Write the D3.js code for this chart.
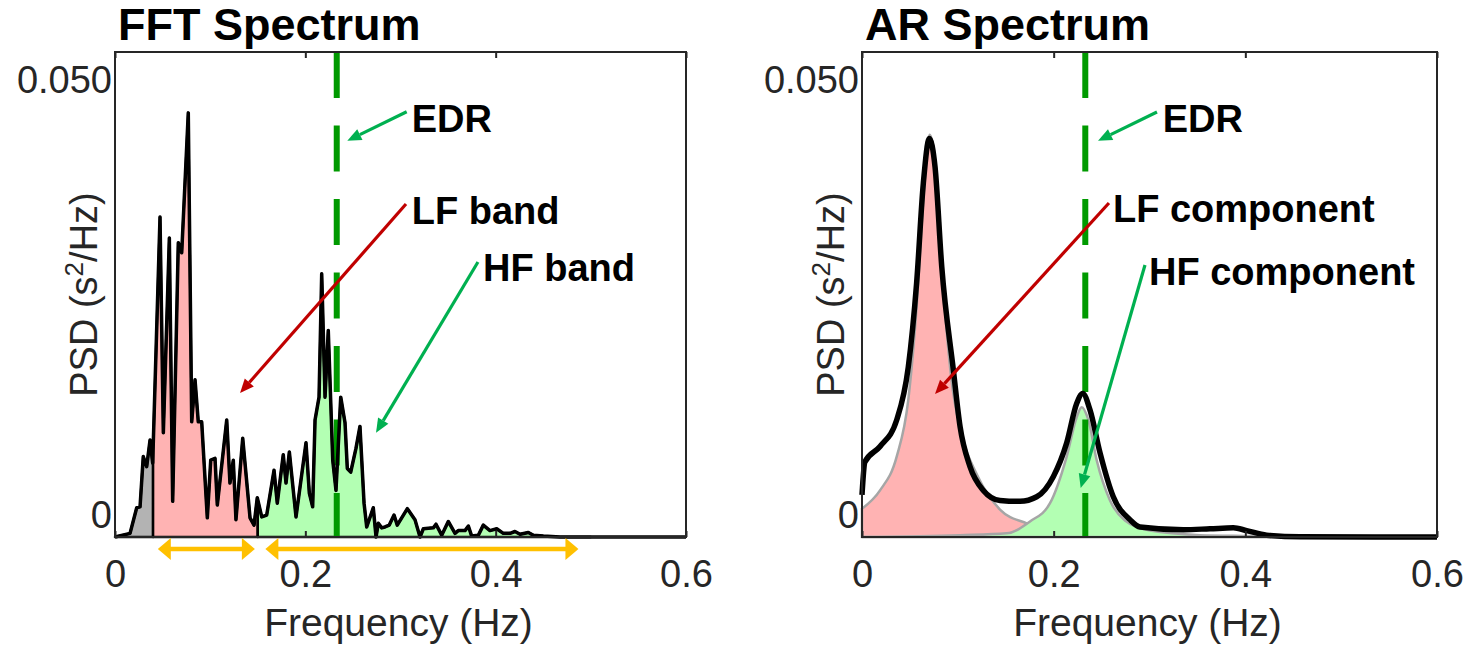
<!DOCTYPE html>
<html>
<head>
<meta charset="utf-8">
<script src="https://cdn.jsdelivr.net/npm/d3@7"></script>
<style>
  body { margin: 0; background: #fff; }
  svg { display: block; }
  text { font-family: "Liberation Sans", Arial, sans-serif; }
</style>
</head>
<body>
<svg id="chart" width="1466" height="646"></svg>
<script>
// ---- FFT periodogram (Hz, s^2/Hz) ----
const fftFreq = [0, 0.0158, 0.0228, 0.0263, 0.0297, 0.0333, 0.0368, 0.0396, 0.0473, 0.0508,
  0.0571, 0.0606, 0.0665, 0.0701, 0.0770, 0.0806, 0.0841, 0.0875, 0.0911, 0.0970,
  0.1006, 0.1051, 0.1075, 0.1174, 0.1208, 0.1243, 0.1271, 0.1342, 0.1419, 0.1461,
  0.1495, 0.1542, 0.1594, 0.1671, 0.1705, 0.1768, 0.1797, 0.1832, 0.1902, 0.2007,
  0.2042, 0.2077, 0.2102, 0.2144, 0.2172, 0.2207, 0.2241, 0.2288, 0.2322, 0.2372,
  0.2417, 0.2441, 0.2477, 0.2532, 0.2574, 0.2617, 0.2645, 0.2714, 0.2743, 0.2767,
  0.2803, 0.2837, 0.2882, 0.2932, 0.2966, 0.3072, 0.3152, 0.3205, 0.3240, 0.3345,
  0.3373, 0.3433, 0.3502, 0.3573, 0.3607, 0.3678, 0.3713, 0.3748, 0.3818, 0.3870,
  0.3940, 0.4011, 0.4080, 0.4151, 0.4203, 0.4256, 0.4343, 0.4396, 0.4501, 0.4676, 0.6];
const fftPsd = [0, 0.0004, 0.0032, 0.0033, 0.0088, 0.0077, 0.0106, 0.0081, 0.0350, 0.0114,
  0.0327, 0.0039, 0.0322, 0.0311, 0.0464, 0.0126, 0.0172, 0.0126, 0.0126, 0.0021,
  0.0084, 0.0086, 0.0035, 0.0128, 0.0059, 0.0084, 0.0019, 0.0108, 0.0021, 0.0013,
  0.0043, 0.0022, 0.0024, 0.0073, 0.0037, 0.0090, 0.0059, 0.0093, 0.0022, 0.0103,
  0.0048, 0.0033, 0.0128, 0.0153, 0.0288, 0.0153, 0.0226, 0.0084, 0.0051, 0.0153,
  0.0125, 0.0075, 0.0071, 0.0097, 0.0121, 0.0037, 0.0011, 0.0032, 0.0000, 0.0015,
  0.0010, 0.0011, 0.0013, 0.0024, 0.0013, 0.0031, 0.0019, 0.0000, 0.0009, 0.0010,
  0.0014, 0.0002, 0.0017, 0.0004, 0.0007, 0.0007, 0.0012, 0.0001, 0.0002, 0.0013,
  0.0007, 0.0009, 0.0004, 0.0004, 0.0006, 0.0003, 0.0005, 0.0002, 0.0001, 0, 0];

// FFT band edges: VLF | LF | HF
const fftBandEdges = [0, 0.04, 0.15, 0.5];

// ---- AR spectrum (total) ----
const arFreq = [0, 0.003, 0.0188, 0.0362, 0.0483, 0.0570, 0.0640, 0.0703, 0.0762, 0.0832,
  0.0953, 0.1023, 0.1127, 0.1266, 0.1440, 0.1649, 0.1823, 0.1996, 0.2136, 0.2240,
  0.2303, 0.2379, 0.2484, 0.2622, 0.2796, 0.2901, 0.3353, 0.3631, 0.3875, 0.4014,
  0.4223, 0.4570, 0.6];
const arPsd = [0.0046, 0.0082, 0.0099, 0.0128, 0.0186, 0.0278, 0.0387, 0.0436, 0.0405, 0.0296,
  0.0183, 0.0121, 0.0077, 0.0051, 0.0040, 0.0039, 0.0044, 0.0066, 0.0103, 0.0146,
  0.0157, 0.0139, 0.0092, 0.0044, 0.0019, 0.0011, 0.0008, 0.0009, 0.0010, 0.0007,
  0.0002, 0.00003, 0];

// AR LF component
const lfFreq = [0, 0.0188, 0.0362, 0.0483, 0.0570, 0.0640, 0.0706, 0.0770, 0.0840, 0.0930,
  0.1040, 0.1200, 0.1440, 0.1719, 0.2032, 0.2500, 0.3000, 0.6];
const lfPsd = [0.0031, 0.0051, 0.0088, 0.0150, 0.0252, 0.0369, 0.0440, 0.0405, 0.0285, 0.0175,
  0.0112, 0.0068, 0.0030, 0.0015, 0.0006, 0.0002, 0, 0];

// AR HF component
const hfFreq = [0, 0.1023, 0.1510, 0.1753, 0.1962, 0.2136, 0.2240, 0.2292, 0.2362, 0.2449,
  0.2588, 0.2744, 0.3005, 0.3527, 0.4049, 0.4570, 0.6];
const hfPsd = [0, 0.0002, 0.0004, 0.0017, 0.0037, 0.0088, 0.0131, 0.0142, 0.0128, 0.0084,
  0.0040, 0.0018, 0.0007, 0.0002, 0.0001, 0, 0];

// EDR (respiratory) frequency
const edrFreq = 0.233;

// ---- axes ----
const xTicks = [0, 0.2, 0.4, 0.6];
const xTickLabels = ["0", "0.2", "0.4", "0.6"];
const yTicks = [0, 0.05];
const yTickLabels = ["0", "0.050"];
const yMax = 0.05306;

// yellow band-range arrows below the FFT axis (Hz)
const lfRangeArrow = [0.045, 0.147];
const hfRangeArrow = [0.158, 0.487];

// annotation callouts (Hz, s^2/Hz)
const fftNotes = [
  { label: "EDR",     at: [0.3118, 0.04434], from: [0.3065, 0.04653], to: [0.2441, 0.04335] },
  { label: "LF band", at: [0.3118, 0.03424], from: [0.3058, 0.03643], to: [0.1314, 0.01575] },
  { label: "HF band", at: [0.3867, 0.02801], from: [0.3814, 0.03009], to: [0.2743, 0.01141] }
];
const arNotes = [
  { label: "EDR",          at: [0.3138, 0.04431], from: [0.3078, 0.04650], to: [0.2463, 0.04335] },
  { label: "LF component", at: [0.2619, 0.03446], from: [0.2577, 0.03654], to: [0.0762, 0.01564] },
  { label: "HF component", at: [0.2995, 0.02757], from: [0.2953, 0.02976], to: [0.2282, 0.00536] }
];
const noteColors = ["#00b050", "#c00000", "#00b050"];

const svg = d3.select("#chart");
const axisColor = "#262626";

function interp(xs, ys, x) {
  const i = d3.bisectRight(xs, x);
  if (i <= 0) return ys[0];
  if (i >= xs.length) return ys[ys.length - 1];
  const t = (x - xs[i - 1]) / (xs[i] - xs[i - 1]);
  return ys[i - 1] + t * (ys[i] - ys[i - 1]);
}

function bandPoints(xs, ys, lo, hi) {
  const pts = [[lo, interp(xs, ys, lo)]];
  xs.forEach((f, i) => { if (f > lo && f < hi) pts.push([f, ys[i]]); });
  pts.push([hi, interp(xs, ys, hi)]);
  return pts;
}

function arrow(g, x1, y1, x2, y2, color, width, headLen, headHalf) {
  const a = Math.atan2(y2 - y1, x2 - x1);
  const bx = x2 - headLen * Math.cos(a), by = y2 - headLen * Math.sin(a);
  if (width > 0) {
    g.append("line").attr("x1", x1).attr("y1", y1).attr("x2", bx).attr("y2", by)
      .attr("stroke", color).attr("stroke-width", width);
  }
  const px = -Math.sin(a) * headHalf, py = Math.cos(a) * headHalf;
  g.append("path")
    .attr("d", `M${x2},${y2}L${bx + px},${by + py}L${bx - px},${by - py}Z`)
    .attr("fill", color);
}

function panel(x0, x1, title) {
  const top = 52, bottom = 537;
  const x = d3.scaleLinear().domain([0, 0.6]).range([x0, x1]);
  const y = d3.scaleLinear().domain([0, yMax]).range([bottom, top]);
  const g = svg.append("g");
  const layers = {
    fill: g.append("g"), ref: g.append("g"), line: g.append("g"),
    frame: g.append("g"), notes: g.append("g")
  };
  // frame
  layers.frame.append("rect").attr("x", x0).attr("y", top)
    .attr("width", x1 - x0).attr("height", bottom - top)
    .attr("fill", "none").attr("stroke", axisColor).attr("stroke-width", 2);
  // x axis (inward ticks, labels below)
  const xa = layers.frame.append("g").attr("transform", `translate(0,${bottom})`)
    .call(d3.axisBottom(x).tickValues(xTicks).tickSize(-6).tickPadding(23)
      .tickFormat((d, i) => xTickLabels[i]));
  xa.select(".domain").remove();
  xa.selectAll("line").attr("stroke", axisColor).attr("stroke-width", 2);
  xa.selectAll("text").attr("font-size", 38).attr("fill", axisColor)
    .attr("font-family", '"Liberation Sans", Arial, sans-serif');
  const xt = layers.frame.append("g").attr("transform", `translate(0,${top})`)
    .call(d3.axisTop(x).tickValues(xTicks).tickSize(-6).tickFormat(""));
  xt.select(".domain").remove();
  xt.selectAll("line").attr("stroke", axisColor).attr("stroke-width", 2);
  // y axis labels
  const ya = layers.frame.append("g").attr("transform", `translate(${x0},0)`)
    .call(d3.axisLeft(y).tickValues(yTicks).tickSize(0).tickPadding(3)
      .tickFormat((d, i) => yTickLabels[i]));
  ya.select(".domain").remove();
  ya.selectAll("text").attr("font-size", 38).attr("fill", axisColor)
    .attr("font-family", '"Liberation Sans", Arial, sans-serif')
    .attr("transform", d => d === 0 ? "translate(0,-22)" : null);
  // axis titles
  layers.frame.append("text")
    .attr("x", (x0 + x1) / 2 - 2).attr("y", 636)
    .attr("text-anchor", "middle").attr("font-size", 39).attr("fill", axisColor)
    .text("Frequency (Hz)");
  const yt = layers.frame.append("text")
    .attr("transform", `translate(${x0 - 18},${(top + bottom) / 2}) rotate(-90)`)
    .attr("text-anchor", "middle").attr("font-size", 38).attr("fill", axisColor);
  yt.append("tspan").text("PSD (s");
  yt.append("tspan").attr("font-size", 26).attr("dy", -14).text("2");
  yt.append("tspan").attr("dy", 14).text("/Hz)");
  // title
  layers.frame.append("text").attr("x", x0 + 3).attr("y", 40)
    .attr("font-size", 45).attr("font-weight", "bold").attr("fill", "#000")
    .text(title);
  // EDR line
  layers.ref.append("line").attr("x1", x(edrFreq)).attr("x2", x(edrFreq))
    .attr("y1", top).attr("y2", bottom)
    .attr("stroke", "#009a00").attr("stroke-width", 6)
    .attr("stroke-dasharray", "46,27.5");
  return { x, y, layers, bottom };
}

function notes(p, list) {
  list.forEach((n, i) => {
    arrow(p.layers.notes, p.x(n.from[0]), p.y(n.from[1]), p.x(n.to[0]), p.y(n.to[1]),
      noteColors[i], 3.2, 14, 6);
    p.layers.notes.append("text")
      .attr("x", p.x(n.at[0])).attr("y", p.y(n.at[1]))
      .attr("font-size", 38).attr("font-weight", "bold").attr("fill", "#000")
      .text(n.label);
  });
}

// ===== FFT panel =====
const L = panel(115, 686, "FFT Spectrum");
const bandFills = ["#b3b3b3", "#ffb3b3", "#b3ffb3"];
for (let b = 0; b < fftBandEdges.length - 1; b++) {
  const pts = bandPoints(fftFreq, fftPsd, fftBandEdges[b], fftBandEdges[b + 1]);
  L.layers.fill.append("path")
    .attr("d", d3.area().x(d => L.x(d[0])).y0(L.y(0)).y1(d => L.y(d[1]))(pts))
    .attr("fill", bandFills[b]).attr("stroke", "#000").attr("stroke-width", 2.5)
    .attr("stroke-linejoin", "round");
}
L.layers.line.append("path")
  .attr("d", d3.line().x((d, i) => L.x(fftFreq[i])).y(d => L.y(d))(fftPsd))
  .attr("fill", "none").attr("stroke", "#000").attr("stroke-width", 3.5)
  .attr("stroke-linejoin", "round");
notes(L, fftNotes);
// band range arrows
[lfRangeArrow, hfRangeArrow].forEach(r => {
  const yy = L.bottom + 12;
  const xa = L.x(r[0]), xb = L.x(r[1]);
  const g = L.layers.notes;
  g.append("line").attr("x1", xa + 12).attr("x2", xb - 12).attr("y1", yy).attr("y2", yy)
    .attr("stroke", "#ffc000").attr("stroke-width", 4.5);
  arrow(g, (xa + xb) / 2, yy, xa, yy, "#ffc000", 0, 13, 11);
  arrow(g, (xa + xb) / 2, yy, xb, yy, "#ffc000", 0, 13, 11);
});

// ===== AR panel =====
const R = panel(862, 1437, "AR Spectrum");
const smooth = d3.curveMonotoneX;
[[lfFreq, lfPsd, "#ffb3b3"], [hfFreq, hfPsd, "#b3ffb3"]].forEach(([fs, ps, col]) => {
  R.layers.fill.append("path")
    .attr("d", d3.area().curve(smooth).x((d, i) => R.x(fs[i])).y0(R.y(0)).y1(d => R.y(d))(ps))
    .attr("fill", col).attr("stroke", "#a6a6a6").attr("stroke-width", 2.5);
});
R.layers.line.append("path")
  .attr("d", d3.line().curve(smooth).x((d, i) => R.x(arFreq[i])).y(d => R.y(d))(arPsd))
  .attr("fill", "none").attr("stroke", "#000").attr("stroke-width", 5.5)
  .attr("stroke-linejoin", "round");
notes(R, arNotes);
</script>
</body>
</html>
